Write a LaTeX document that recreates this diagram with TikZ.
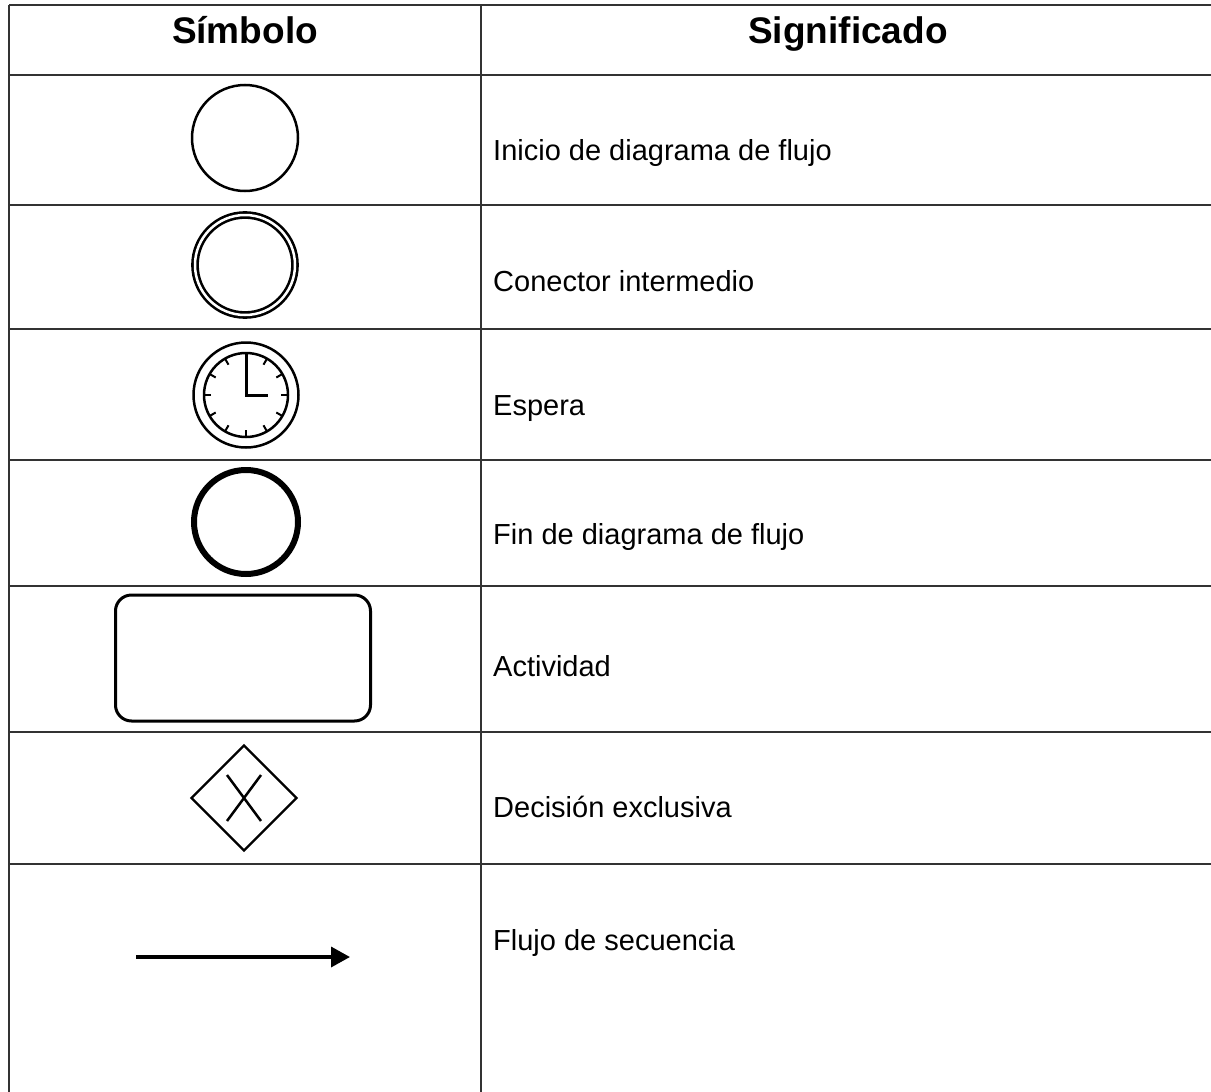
\documentclass[tikz,border=0pt]{standalone}
\usepackage{fontspec}
\setmainfont{Liberation Sans}
\usetikzlibrary{arrows.meta,shapes.geometric}

\tikzset{
  rule/.style={line width=1.6pt, black!80},
  sym/.style={draw, inner sep=0pt, line width=2.5pt},
  meaning/.style={anchor=base west, inner sep=0pt, font=\fontsize{29pt}{34pt}\selectfont},
  head/.style={anchor=base, inner sep=0pt, font=\fontsize{37pt}{44pt}\selectfont\bfseries}
}

\begin{document}
\begin{tikzpicture}[x=1pt,y=-1pt]
\useasboundingbox (0,0) rectangle (1211,1092);

% table
\draw[rule] (9,5) -- (1211,5);
\foreach \y in {75,205,329,460,586,732,864}
  \draw[rule] (9,\y) -- (1211,\y);
\draw[rule] (9,5) -- (9,1092);
\draw[rule] (481,5) -- (481,1092);

\node[head] (hsym) at (245,43) {Símbolo};
\node[head] (hsig) at (848,43) {Significado};

% symbols
\node[sym, circle, minimum size=106pt] (inicio) at (245,138) {};
\node[sym, circle, double, double distance=2.5pt, line width=2.6pt, minimum size=100pt] (inter) at (245,265) {};

\node[sym, circle, line width=2.5pt, minimum size=105pt] (espera) at (246,395) {};
\draw[line width=2.5pt] (espera.center) circle[radius=42pt];
\foreach \a in {0,30,...,330}
  \draw[line width=2pt] ([shift={(\a:35pt)}]espera.center) -- ([shift={(\a:42pt)}]espera.center);
\draw[line width=3pt] ([yshift=41pt]espera.center) |- ([xshift=22pt]espera.center);

\node[sym, circle, line width=6pt, minimum size=104pt] (fin) at (246,522) {};
\node[sym, rounded corners=16pt, line width=3pt, minimum width=255pt, minimum height=126pt] (actividad) at (243,658) {};

\node[sym, diamond, line width=2.2pt, minimum width=106pt, minimum height=106pt] (decision) at (244,798) {};
\draw[line width=2.5pt] ([shift={(-17pt,23pt)}]decision.center) -- ([shift={(17pt,-23pt)}]decision.center);
\draw[line width=2.5pt] ([shift={(-17pt,-23pt)}]decision.center) -- ([shift={(17pt,23pt)}]decision.center);

\coordinate (flujoA) at (136,957);
\coordinate (flujoB) at (350,957);
\draw[line width=3.5pt, -{Triangle[length=19pt,width=20pt]}] (flujoA) -- (flujoB);

% meanings
\node[meaning] (tinicio) at (493,160) {Inicio de diagrama de flujo};
\node[meaning] (tinter) at (493,291) {Conector intermedio};
\node[meaning] (tespera) at (493,415) {Espera};
\node[meaning] (tfin) at (493,544) {Fin de diagrama de flujo};
\node[meaning] (tact) at (493,676) {Actividad};
\node[meaning] (tdec) at (493,817) {Decisión exclusiva};
\node[meaning] (tflujo) at (493,950) {Flujo de secuencia};

\end{tikzpicture}
\end{document}
